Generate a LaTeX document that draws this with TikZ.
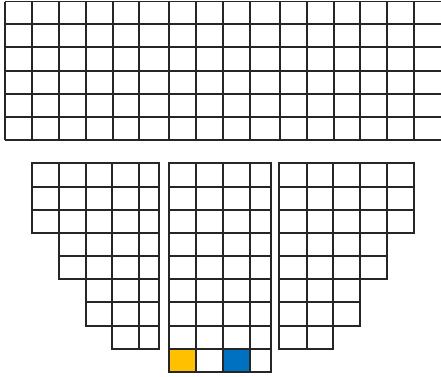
\documentclass[tikz,border=0pt]{standalone}
\definecolor{seatyellow}{HTML}{FFC000}
\definecolor{seatblue}{HTML}{0070C0}
\tikzset{seat/.style={draw=black!85,line width=1.2pt},
  gridline/.style={draw=black!85,line width=1.2pt}}
\begin{document}
\begin{tikzpicture}[x=1pt,y=-1pt]
\useasboundingbox (0,0) rectangle (441,376);
\clip (0,0) rectangle (441,376);
% top block
\foreach \y in {1.5,24,47,71,94,117,140}
  \draw[gridline] (5,\y) -- (445,\y);
\foreach \x in {5,32,59,86,113,139,169,196,223,250,280,307,334,360,387,414}
  \draw[gridline] (\x,1.5) -- (\x,140);
% left block
\foreach \ya/\yb in {163/187,187/210,210/233}
  \foreach \xa/\xb in {32/59,59/86,86/112,112/139,139/159}
    \draw[seat] (\xa,\ya) rectangle (\xb,\yb);
\foreach \ya/\yb in {233/256,256/279}
  \foreach \xa/\xb in {59/86,86/112,112/139,139/159}
    \draw[seat] (\xa,\ya) rectangle (\xb,\yb);
\foreach \ya/\yb in {279/302,302/326}
  \foreach \xa/\xb in {86/112,112/139,139/159}
    \draw[seat] (\xa,\ya) rectangle (\xb,\yb);
\foreach \ya/\yb in {326/349}
  \foreach \xa/\xb in {112/139,139/159}
    \draw[seat] (\xa,\ya) rectangle (\xb,\yb);
% middle block
\fill[seatyellow] (169,349) rectangle (196,372);
\fill[seatblue] (223,349) rectangle (250,372);
\foreach \ya/\yb in {163/187,187/210,210/233,233/256,256/279,279/302,302/326,326/349,349/372}
  \foreach \xa/\xb in {169/196,196/223,223/250,250/271}
    \draw[seat] (\xa,\ya) rectangle (\xb,\yb);
% right block
\foreach \ya/\yb in {163/187,187/210,210/233}
  \foreach \xa/\xb in {279/307,307/333,333/360,360/387,387/414}
    \draw[seat] (\xa,\ya) rectangle (\xb,\yb);
\foreach \ya/\yb in {233/256,256/279}
  \foreach \xa/\xb in {279/307,307/333,333/360,360/387}
    \draw[seat] (\xa,\ya) rectangle (\xb,\yb);
\foreach \ya/\yb in {279/302,302/326}
  \foreach \xa/\xb in {279/307,307/333,333/360}
    \draw[seat] (\xa,\ya) rectangle (\xb,\yb);
\foreach \ya/\yb in {326/349}
  \foreach \xa/\xb in {279/307,307/333}
    \draw[seat] (\xa,\ya) rectangle (\xb,\yb);
\end{tikzpicture}
\end{document}
